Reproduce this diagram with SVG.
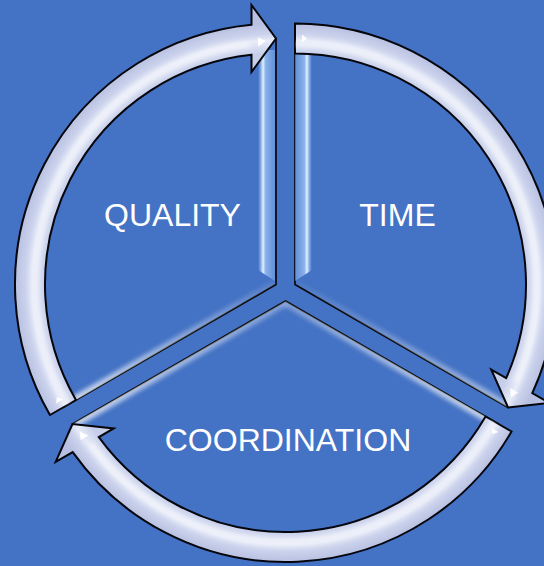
<svg xmlns="http://www.w3.org/2000/svg" xmlns:xlink="http://www.w3.org/1999/xlink" width="544" height="566" viewBox="0 0 544 566">
  <style>
    .sector { fill: #4472c4; stroke: #000; stroke-width: 1.6; stroke-linejoin: round; }
    .band { fill: url(#bandGrad); stroke: #05050c; stroke-width: 2; stroke-linejoin: miter; }
    .glow { fill: none; stroke-width: 10; filter: url(#blur2); }
    .glare { fill: #ffffff; fill-opacity: 0.95; }
    .sheen { fill: none; stroke: #ffffff; stroke-width: 5; stroke-opacity: 0.55; filter: url(#blur2); }
    .label { font-family: "Liberation Sans", Arial, sans-serif; font-size: 32px; fill: #ffffff; text-anchor: middle; }
  </style>
  <defs>
    <radialGradient id="bandGrad" gradientUnits="userSpaceOnUse" cx="0" cy="0" r="261">
      <stop offset="0.885" stop-color="#c6cee9"/>
      <stop offset="0.91" stop-color="#d8def2"/>
      <stop offset="0.935" stop-color="#e8ecf8"/>
      <stop offset="0.96" stop-color="#cbd2ec"/>
      <stop offset="1" stop-color="#b8c1e1"/>
    </radialGradient>
    <linearGradient id="stripeL" x1="0" y1="0" x2="1" y2="0">
      <stop offset="0" stop-color="#a8cdfa" stop-opacity="0"/>
      <stop offset="0.3" stop-color="#e2f2ff"/>
      <stop offset="0.45" stop-color="#9cc2f4" stop-opacity="0.8"/>
      <stop offset="1" stop-color="#7aa3e6" stop-opacity="0.6"/>
    </linearGradient>
    <linearGradient id="stripeR" x1="1" y1="0" x2="0" y2="0">
      <stop offset="0" stop-color="#a8cdfa" stop-opacity="0"/>
      <stop offset="0.3" stop-color="#e2f2ff"/>
      <stop offset="0.45" stop-color="#9cc2f4" stop-opacity="0.8"/>
      <stop offset="1" stop-color="#7aa3e6" stop-opacity="0.6"/>
    </linearGradient>
    <linearGradient id="glowQ" gradientUnits="userSpaceOnUse" x1="63" y1="407.5" x2="276" y2="284.5">
      <stop offset="0" stop-color="#ffffff" stop-opacity="0.75"/>
      <stop offset="1" stop-color="#ffffff" stop-opacity="0.1"/>
    </linearGradient>
    <linearGradient id="glowT" gradientUnits="userSpaceOnUse" x1="508" y1="407.5" x2="295" y2="284.5">
      <stop offset="0" stop-color="#ffffff" stop-opacity="0.5"/>
      <stop offset="1" stop-color="#ffffff" stop-opacity="0.05"/>
    </linearGradient>
    <linearGradient id="glowCL" gradientUnits="userSpaceOnUse" x1="72.5" y1="424" x2="285.5" y2="301">
      <stop offset="0" stop-color="#ffffff" stop-opacity="0.7"/>
      <stop offset="1" stop-color="#ffffff" stop-opacity="0.3"/>
    </linearGradient>
    <linearGradient id="glowCR" gradientUnits="userSpaceOnUse" x1="498.5" y1="424" x2="285.5" y2="301">
      <stop offset="0" stop-color="#ffffff" stop-opacity="0.7"/>
      <stop offset="1" stop-color="#ffffff" stop-opacity="0.3"/>
    </linearGradient>
    <filter id="blur2" x="-50%" y="-50%" width="200%" height="200%"><feGaussianBlur stdDeviation="2"/></filter>
    <filter id="blur1" x="-50%" y="-50%" width="200%" height="200%"><feGaussianBlur stdDeviation="0.6"/></filter>
    <path id="sector" d="M0,0 L0,-246 A246,246 0 0 0 -213.04,123 Z"/>
    <path id="band" d="M-200.05,115.5 L-226.03,130.5 A261,261 0 0 1 -24.5,-259.85 L-24.5,-279.5 L0,-246 L-24.5,-212.5 L-24.5,-229.7 A231,231 0 0 0 -200.05,115.5 Z"/>
    <path id="sheenArc" d="M-208,120 A241,241 0 0 1 -26,-239.6"/>
    <clipPath id="clipQ"><use xlink:href="#sector" transform="translate(276 284.5)"/></clipPath>
    <clipPath id="clipT"><use xlink:href="#sector" transform="translate(295 284.5) rotate(120)"/></clipPath>
    <clipPath id="clipC"><use xlink:href="#sector" transform="translate(285.5 301) rotate(240)"/></clipPath>
    <clipPath id="clipBand"><use xlink:href="#band"/></clipPath>
  </defs>

  <rect x="0" y="0" width="544" height="566" fill="#4472c4"/>

  <g id="node-quality">
    <use xlink:href="#sector" class="sector" transform="translate(276 284.5)"/>
    <g clip-path="url(#clipQ)">
      <path class="glow" stroke="url(#glowQ)" d="M276,284.5 L63,407.5"/>
      <path fill="url(#stripeL)" filter="url(#blur1)" d="M258,50 L275,50 L275,281 L258,270 Z"/>
    </g>
    <text class="label" x="172.5" y="226">QUALITY</text>
  </g>

  <g id="node-time">
    <use xlink:href="#sector" class="sector" transform="translate(295 284.5) rotate(120)"/>
    <g clip-path="url(#clipT)">
      <path class="glow" stroke="url(#glowT)" d="M295,284.5 L508,407.5"/>
      <path fill="url(#stripeR)" filter="url(#blur1)" d="M295,50 L312,50 L312,270 L295,281 Z"/>
    </g>
    <text class="label" x="397.5" y="226">TIME</text>
  </g>

  <g id="node-coordination">
    <use xlink:href="#sector" class="sector" transform="translate(285.5 301) rotate(240)"/>
    <g clip-path="url(#clipC)">
      <path class="glow" stroke="url(#glowCL)" d="M285.5,301 L72.5,424"/>
      <path class="glow" stroke="url(#glowCR)" d="M285.5,301 L498.5,424"/>
    </g>
    <text class="label" x="288" y="451">COORDINATION</text>
  </g>

  <g id="connectors">
    <g id="arrow-quality-time" transform="translate(276 284.5)">
      <use xlink:href="#band" class="band"/>
      <g clip-path="url(#clipBand)"><use xlink:href="#sheenArc" class="sheen"/></g>
      <path class="glare" d="M-18,-247 L-10,-243.5 L-18,-238 Z"/>
      <path class="glare" d="M-213.1,114.9 L-219,112.6 L-220,118.9 Z"/>
    </g>
    <g id="arrow-time-coordination" transform="translate(295 284.5) rotate(120)">
      <use xlink:href="#band" class="band"/>
      <g clip-path="url(#clipBand)"><use xlink:href="#sheenArc" class="sheen"/></g>
      <path class="glare" d="M-18,-247 L-10,-243.5 L-18,-238 Z"/>
      <path class="glare" d="M-213.1,114.9 L-219,112.6 L-220,118.9 Z"/>
    </g>
    <g id="arrow-coordination-quality" transform="translate(285.5 301) rotate(240)">
      <use xlink:href="#band" class="band"/>
      <g clip-path="url(#clipBand)"><use xlink:href="#sheenArc" class="sheen"/></g>
      <path class="glare" d="M-18,-247 L-10,-243.5 L-18,-238 Z"/>
      <path class="glare" d="M-213.1,114.9 L-219,112.6 L-220,118.9 Z"/>
    </g>
  </g>
</svg>
